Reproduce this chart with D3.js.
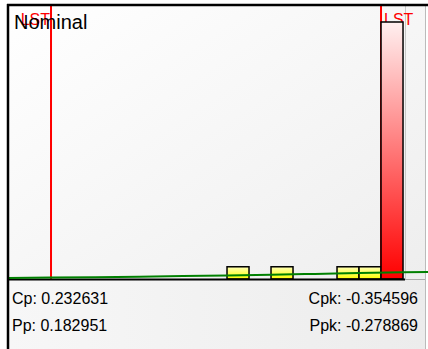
<!DOCTYPE html>
<html><head><meta charset="utf-8">
<script src="https://cdn.jsdelivr.net/npm/d3@7"></script>
<style>html,body{margin:0;padding:0;background:#fff;}svg{display:block;font-family:"Liberation Sans",Arial,sans-serif;}</style>
</head><body><div id="chart"></div>
<script>
// ---- data ----
const binStarts = [8, 10, 13, 14, 15];          // bin lower edges (units)
const binCounts = [1, 1, 1, 1, 21];             // counts per bin
const binOut    = [false, false, false, false, true]; // out of spec?
const binWidth = 1;
const specLSL = 0, specUSL = 15;
const specLabels = ["LST", "LST"];
const curveX = [-2, 0, 2, 4, 6, 8, 10, 12, 14, 16, 18];
const curveY = [0.084, 0.113, 0.148, 0.190, 0.239, 0.294, 0.354, 0.418, 0.483, 0.545, 0.603];
const title = "Nominal";
const statsLeft = ["Cp: 0.232631", "Pp: 0.182951"];
const statsRight = ["Cpk: -0.354596", "Ppk: -0.278869"];

const W = 428, H = 349;
const svg = d3.select("#chart").append("svg").attr("width", W).attr("height", H);
const defs = svg.append("defs");

function lin(id, x2, y2, stops) {
  const g = defs.append("linearGradient").attr("id", id)
    .attr("x1", 0).attr("y1", 0).attr("x2", x2).attr("y2", y2);
  stops.forEach(s => g.append("stop").attr("offset", s[0]).attr("stop-color", s[1]));
}
lin("bgPlot", 1, 1, [[0, "#ffffff"], [1, "#eeeeee"]]);
lin("bgBot", 1, 0, [[0, "#f7f7f7"], [1, "#ececec"]]);
lin("gRed", 0, 1, [[0, "#fff0f0"], [1, "#ff0000"]]);
lin("gYel", 0, 1, [[0, "#ffffb8"], [1, "#ffff00"]]);

const plotL = 8, plotR = 405, plotT = 6, plotB = 279;

// backgrounds
svg.append("rect").attr("x", plotL).attr("y", plotT).attr("width", 425 - plotL).attr("height", plotB - plotT).attr("fill", "url(#bgPlot)");
svg.append("rect").attr("x", plotL).attr("y", plotB).attr("width", 425 - plotL).attr("height", H - plotB).attr("fill", "url(#bgBot)");
svg.append("line").attr("x1", 425.5).attr("x2", 425.5).attr("y1", 5).attr("y2", H).attr("stroke", "#bbb").attr("stroke-width", 1);
svg.append("line").attr("x1", plotR + 0.5).attr("x2", plotR + 0.5).attr("y1", plotT).attr("y2", plotB).attr("stroke", "#c8c8c8").attr("stroke-width", 1);

// scales
const x = d3.scaleLinear().domain([-1.955, 16.09]).range([plotL, plotR]);
const y = d3.scaleLinear().domain([0, 21]).range([plotB, 22]);

// spec lines
[specLSL, specUSL].forEach((v) => {
  svg.append("line").attr("x1", x(v)).attr("x2", x(v)).attr("y1", plotT).attr("y2", plotB)
    .attr("stroke", "#ff0000").attr("stroke-width", 2);
});
svg.append("text").attr("x", x(specLSL) - 1).attr("y", 25).attr("text-anchor", "end")
  .attr("font-size", 16).attr("fill", "#ff0000").text(specLabels[0]);
svg.append("text").attr("x", x(specUSL) + 3).attr("y", 25).attr("text-anchor", "start")
  .attr("font-size", 16).attr("fill", "#ff0000").text(specLabels[1]);

// title
svg.append("text").attr("x", 14).attr("y", 29).attr("font-size", 20).attr("fill", "#000").text(title);

// bars
svg.selectAll("rect.bar").data(binStarts.map((s, i) => ({s, c: binCounts[i], o: binOut[i]})))
  .enter().append("rect").attr("class", "bar")
  .attr("x", d => x(d.s)).attr("width", d => x(d.s + binWidth) - x(d.s))
  .attr("y", d => y(d.c)).attr("height", d => y(0) - y(d.c))
  .attr("fill", d => d.o ? "url(#gRed)" : "url(#gYel)")
  .attr("stroke", "#000").attr("stroke-width", 1.5);

// baseline
svg.append("line").attr("x1", plotL).attr("x2", plotR).attr("y1", plotB + 0.5).attr("y2", plotB + 0.5)
  .attr("stroke", "#000").attr("stroke-width", 2);
svg.append("line").attr("x1", plotR).attr("x2", 425).attr("y1", plotB + 0.5).attr("y2", plotB + 0.5)
  .attr("stroke", "#aaa").attr("stroke-width", 1);

// curve
defs.append("clipPath").attr("id", "clipC").append("rect").attr("x", plotL).attr("y", 0).attr("width", W - plotL).attr("height", H);
const line = d3.line().x((d, i) => x(curveX[i])).y(d => y(d)).curve(d3.curveMonotoneX);
svg.append("path").attr("d", line(curveY)).attr("fill", "none").attr("stroke", "#008000")
  .attr("stroke-width", 2).attr("clip-path", "url(#clipC)");

// stats
statsLeft.forEach((t, i) => svg.append("text").attr("x", 12).attr("y", 304 + i * 27).attr("font-size", 16).attr("fill", "#000").text(t));
statsRight.forEach((t, i) => svg.append("text").attr("x", 418).attr("y", 304 + i * 27).attr("text-anchor", "end").attr("font-size", 16).attr("fill", "#000").text(t));

// frame
svg.append("line").attr("x1", plotL - 1).attr("x2", W).attr("y1", 5).attr("y2", 5).attr("stroke", "#000").attr("stroke-width", 2.5);
svg.append("line").attr("x1", plotL).attr("x2", plotL).attr("y1", 4).attr("y2", H).attr("stroke", "#000").attr("stroke-width", 2.5);
</script></body></html>
